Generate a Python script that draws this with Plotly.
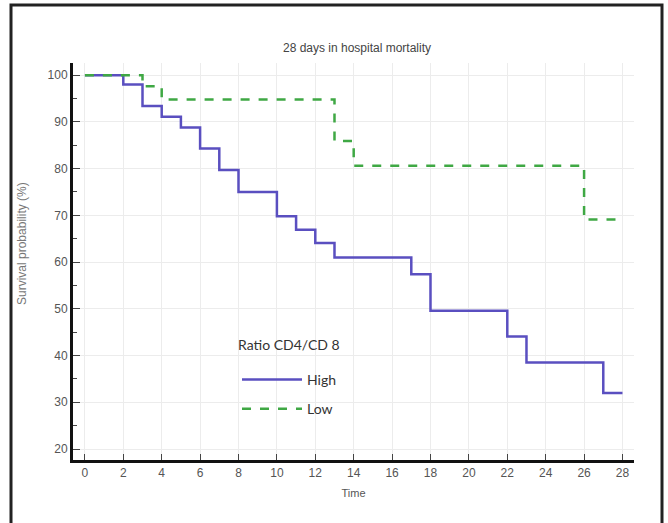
import plotly.graph_objects as go

# Data
high_time = [0, 2, 3, 4, 5, 6, 7, 8, 10, 11, 12, 13, 17, 18, 22, 23, 27, 28]
high_surv = [100, 98.0, 93.4, 91.1, 88.8, 84.3, 79.7, 75.0, 69.8, 66.9, 64.1, 61.0, 57.4, 49.6, 44.1, 38.5, 32.0, 32.0]
low_time = [0, 3, 4, 13, 14, 26, 28]
low_surv = [100, 97.6, 94.8, 85.9, 80.6, 69.1, 69.1]

x_ticks = list(range(0, 29, 2))
y_ticks = list(range(20, 101, 10))
legend_title = "Ratio CD4/CD 8"
y_title = "Survival probability (%)"

W, H = 668, 523
ML, MR, MT, MB = 73, 34, 63, 63
PW = W - ML - MR
PH = H - MT - MB


def px_x(p):
    return (p - ML) / PW


def px_y(p):
    return (H - MB - p) / PH


fig = go.Figure()
fig.add_trace(go.Scatter(
    x=high_time, y=high_surv, mode="lines", name="High",
    line=dict(shape="hv", color="#5a4fc0", width=2.5),
    legendgroup="a",
))
fig.add_trace(go.Scatter(
    x=low_time, y=low_surv, mode="lines", name="Low",
    line=dict(shape="hv", color="#3fa844", width=2.5, dash="dash"),
    legendgroup="b",
))

fig.update_layout(
    width=W, height=H,
    margin=dict(l=ML, r=MR, t=MT, b=MB, autoexpand=False),
    paper_bgcolor="white", plot_bgcolor="white",
    font=dict(family="Liberation Sans, Arial, sans-serif", size=12, color="#555"),
    title=dict(text="28 days in hospital mortality", x=px_x(357), xref="paper", xanchor="center",
               y=1 - 48 / H, yanchor="middle",
               font=dict(size=12, color="#444")),
    showlegend=True,
    legend=dict(
        font=dict(family="Lato, Noto Sans, sans-serif", size=14, color="#333"),
        x=px_x(237), y=px_y(364), xanchor="left", yanchor="top",
        bgcolor="rgba(0,0,0,0)", itemwidth=60, tracegroupgap=8,
    ),
    annotations=[
        dict(
            text=legend_title, xref="paper", yref="paper",
            x=px_x(236), y=px_y(344), xanchor="left", yanchor="middle", showarrow=False,
            font=dict(family="Lato, Noto Sans, sans-serif", size=14, color="#333"),
        ),
        dict(
            text=y_title, xref="paper", yref="paper", textangle=-90,
            x=px_x(22), y=px_y(244), xanchor="center", yanchor="middle", showarrow=False,
            font=dict(size=12, color="#777"),
        ),
    ],
    xaxis=dict(
        range=[-0.62, 28.6], tickvals=x_ticks, ticktext=[str(v) for v in x_ticks],
        showgrid=True, gridcolor="#ececec", gridwidth=1, zeroline=False,
        showline=True, linecolor="#111", linewidth=3, automargin=False,
        ticks="inside", ticklen=6, tickcolor="#444", tickwidth=1,
        title=dict(text="Time", font=dict(size=11, color="#555"), standoff=10),
    ),
    yaxis=dict(
        range=[17.65, 102.6], tickvals=y_ticks, ticktext=[str(v) for v in y_ticks],
        showgrid=True, gridcolor="#ececec", gridwidth=1, zeroline=False,
        showline=True, linecolor="#111", linewidth=3, automargin=False,
        ticks="inside", ticklen=7, tickcolor="#444", tickwidth=1,
        minor=dict(dtick=5, tick0=0, ticks="inside", ticklen=4, tickcolor="#444", showgrid=False),
    ),
    shapes=[dict(
        type="rect", xref="paper", yref="paper",
        x0=px_x(11), x1=px_x(662), y0=px_y(535), y1=px_y(5),
        line=dict(color="#222", width=3), fillcolor="rgba(0,0,0,0)", layer="above",
    )],
)

fig.write_html(
    "out.html",
    config={"displayModeBar": False},
    post_script="document.body.style.margin='0';document.body.style.overflow='hidden';",
)
